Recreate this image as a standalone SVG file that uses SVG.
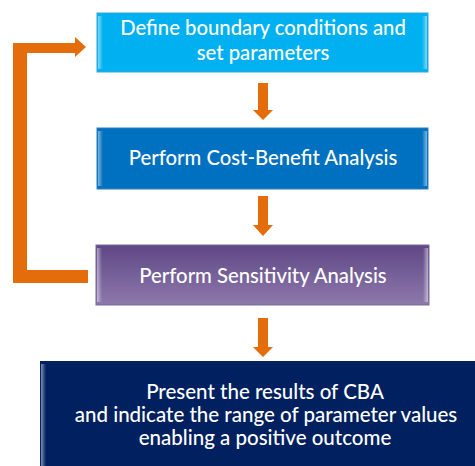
<svg xmlns="http://www.w3.org/2000/svg" width="475" height="466" viewBox="0 0 475 466">
<defs>
<linearGradient id="purple" x1="0" y1="0" x2="0" y2="1">
<stop offset="0" stop-color="#5E4785"/>
<stop offset="1" stop-color="#8E79AC"/>
</linearGradient>
<linearGradient id="edgeL" x1="0" y1="0" x2="1" y2="0">
<stop offset="0" stop-color="#fff" stop-opacity="0.5"/>
<stop offset="1" stop-color="#fff" stop-opacity="0"/>
</linearGradient>
<linearGradient id="edgeR" x1="0" y1="0" x2="1" y2="0">
<stop offset="0" stop-color="#fff" stop-opacity="0"/>
<stop offset="1" stop-color="#fff" stop-opacity="0.5"/>
</linearGradient>
</defs>
<style>
text{font-family:Lato,"Liberation Sans",sans-serif;fill:#fff;text-anchor:middle;font-weight:500}
.t{font-size:20.3px}
.b{font-size:20.5px}
.arr{fill:#E46C0A}
</style>
<g id="connectors">
<path class="arr" d="M258 83h10v27h5l-10 10l-10-10h5z"/>
<path class="arr" d="M258 196h10v29h5l-10 11l-10-11h5z"/>
<path class="arr" d="M258 318h10v29h5l-10 10l-10-10h5z"/>
<path class="arr" d="M13 283V43h62v-6l11 10l-11 10v-4H27v217h61v13z"/>
</g>
<g id="n1">
<rect x="97" y="13" width="331" height="59" fill="#00B0F0" stroke="#33A8D8" stroke-width="1"/>
<rect x="98" y="16" width="5" height="53" fill="url(#edgeL)"/>
<rect x="422" y="16" width="5" height="53" fill="url(#edgeR)"/>
<text class="t" x="263" y="35">Define boundary conditions and</text>
<text class="t" x="263" y="60">set parameters</text>
</g>
<g id="n2">
<rect x="97" y="128" width="331" height="61" fill="#0070C0" stroke="#2C7FC0" stroke-width="1"/>
<rect x="98" y="131" width="5" height="55" fill="url(#edgeL)"/>
<rect x="422" y="131" width="5" height="55" fill="url(#edgeR)"/>
<text class="t" x="263" y="165">Perform Cost-Benefit Analysis</text>
</g>
<g id="n3">
<rect x="96" y="245" width="333" height="60" fill="url(#purple)" stroke="#7B6A9A" stroke-width="1"/>
<rect x="97" y="248" width="5" height="54" fill="url(#edgeL)"/>
<rect x="423" y="248" width="5" height="54" fill="url(#edgeR)"/>
<text class="t" x="263" y="283">Perform Sensitivity Analysis</text>
</g>
<g id="n4">
<rect x="40" y="361" width="440" height="110" fill="#002060"/>
<rect x="41" y="364" width="5" height="105" fill="url(#edgeL)"/>
<text class="b" x="265" y="399">Present the results of CBA</text>
<text class="b" x="266" y="422">and indicate the range of parameter values</text>
<text class="b" x="265" y="445">enabling a positive outcome</text>
</g>
</svg>
